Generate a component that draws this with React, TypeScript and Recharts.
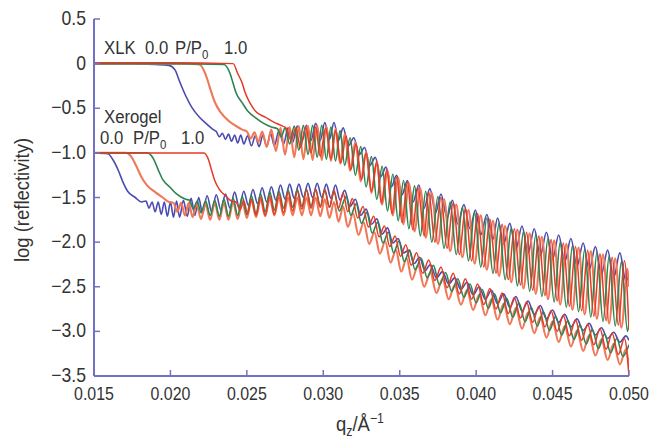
import React from 'react';
import { LineChart, Line, XAxis, YAxis, Customized } from 'recharts';

type P = [number, number];

const xTicks = [0.015, 0.02, 0.025, 0.03, 0.035, 0.04, 0.045, 0.05];
const xTickLabels = ['0.015', '0.020', '0.025', '0.030', '0.035', '0.040', '0.045', '0.050'];
const yTicks = [0.5, 0, -0.5, -1.0, -1.5, -2.0, -2.5, -3.0, -3.5];
const yTickLabels = ['0.5', '0', '\u22120.5', '\u22121.0', '\u22121.5', '\u22122.0', '\u22122.5', '\u22123.0', '\u22123.5'];

// XLK film, P/P0 = 0.0 (blue)
const xlkBlue: P[] = [
  [0.015, 0], [0.017, 0], [0.019, -0.01], [0.0199, -0.02], [0.0203, -0.07], [0.0206, -0.2], [0.021, -0.36],
  [0.0214, -0.49], [0.0219, -0.6], [0.0224, -0.68], [0.0228, -0.74],
  [0.023, -0.76], [0.0232, -0.82], [0.0234, -0.78], [0.0236, -0.85], [0.0238, -0.79], [0.024, -0.87],
  [0.0242, -0.8], [0.0244, -0.89], [0.0246, -0.8], [0.0248, -0.9], [0.02505, -0.81], [0.0253, -0.92],
  [0.02555, -0.81], [0.0258, -0.93], [0.02605, -0.8], [0.0263, -0.93], [0.02655, -0.78], [0.0268, -0.92],
  [0.0271, -0.75], [0.0274, -0.9], [0.0277, -0.72], [0.028, -0.88], [0.0283, -0.7], [0.0286, -0.87],
  [0.0289, -0.69], [0.0292, -0.86], [0.0295, -0.67], [0.0298, -0.86], [0.0301, -0.66], [0.0304, -0.85],
  [0.0307, -0.66], [0.031, -0.86], [0.0313, -0.72], [0.03165, -0.92], [0.032, -0.83], [0.03235, -1.02],
  [0.0327, -0.94], [0.03305, -1.14], [0.0334, -1.05], [0.03375, -1.27], [0.0341, -1.16], [0.03445, -1.38],
  [0.0348, -1.25], [0.03515, -1.47], [0.0355, -1.31], [0.03587, -1.55], [0.03625, -1.36], [0.0366, -1.62],
  [0.03697, -1.4], [0.03735, -1.67], [0.0377, -1.46], [0.0381, -1.73], [0.03845, -1.53], [0.0388, -1.8],
  [0.0392, -1.58], [0.0396, -1.85], [0.03995, -1.64], [0.0403, -1.92], [0.0407, -1.69], [0.0411, -1.97],
  [0.0414, -1.73], [0.0418, -2.02], [0.0422, -1.79], [0.0426, -2.08], [0.043, -1.82], [0.0434, -2.12],
  [0.0438, -1.85], [0.0442, -2.15], [0.0446, -1.89], [0.045, -2.19], [0.0454, -1.92], [0.0458, -2.22],
  [0.0462, -1.96], [0.0466, -2.27], [0.047, -2.01], [0.0474, -2.31], [0.0478, -2.05], [0.0482, -2.36],
  [0.0486, -2.09], [0.049, -2.4], [0.0494, -2.12], [0.0498, -2.44], [0.05, -2.35],
];

// XLK film, intermediate P/P0 (orange)
const xlkOrange: P[] = [
  [0.015, 0], [0.018, 0], [0.021, 0], [0.0219, -0.01], [0.0223, -0.12], [0.0226, -0.28], [0.0229, -0.43],
  [0.0233, -0.55], [0.0238, -0.64], [0.0243, -0.7], [0.0247, -0.74],
  [0.025, -0.76], [0.02525, -0.84], [0.0255, -0.77], [0.02575, -0.88], [0.026, -0.76], [0.0263, -0.93],
  [0.0266, -0.74], [0.0269, -0.98], [0.0272, -0.72], [0.0275, -1.02], [0.0278, -0.71], [0.0281, -1.05],
  [0.0284, -0.7], [0.0287, -1.07], [0.029, -0.7], [0.0293, -1.08], [0.0296, -0.69], [0.0299, -1.08],
  [0.0302, -0.7], [0.0305, -1.09], [0.0308, -0.73], [0.0311, -1.12], [0.0314, -0.79], [0.03175, -1.2],
  [0.0321, -0.88], [0.03245, -1.32], [0.0328, -0.99], [0.03315, -1.45], [0.0335, -1.1], [0.03385, -1.58],
  [0.0342, -1.2], [0.03455, -1.7], [0.0349, -1.28], [0.03525, -1.8], [0.0356, -1.34], [0.03597, -1.88],
  [0.03635, -1.4], [0.0367, -1.95], [0.0371, -1.45], [0.0375, -2.02], [0.0379, -1.52], [0.0383, -2.1],
  [0.0387, -1.58], [0.0391, -2.17], [0.0395, -1.64], [0.0399, -2.24], [0.0403, -1.7], [0.0407, -2.31],
  [0.0411, -1.76], [0.0415, -2.38], [0.0419, -1.82], [0.0423, -2.45], [0.0427, -1.86], [0.0431, -2.52],
  [0.0435, -1.9], [0.0439, -2.58], [0.0443, -1.94], [0.0447, -2.64], [0.0451, -1.98], [0.0455, -2.7],
  [0.0459, -2.02], [0.0463, -2.76], [0.0467, -2.06], [0.0471, -2.81], [0.0475, -2.1], [0.0479, -2.86],
  [0.0483, -2.14], [0.0487, -2.91], [0.0491, -2.18], [0.0495, -2.96], [0.0499, -2.3], [0.05, -2.5],
];

// XLK film, intermediate P/P0 (green)
const xlkGreen: P[] = [
  [0.015, 0], [0.02, 0], [0.0235, -0.01], [0.0239, -0.11], [0.0241, -0.22], [0.0243, -0.33], [0.0247, -0.44],
  [0.0251, -0.54], [0.0256, -0.61], [0.0261, -0.67], [0.0266, -0.71],
  [0.027, -0.73], [0.02725, -0.82], [0.0275, -0.72], [0.0278, -0.9], [0.0281, -0.7], [0.0284, -0.97],
  [0.0287, -0.69], [0.029, -1.02], [0.0293, -0.69], [0.0296, -1.05], [0.0299, -0.69], [0.0302, -1.07],
  [0.0305, -0.71], [0.0308, -1.09], [0.0311, -0.75], [0.0314, -1.14], [0.03175, -0.83], [0.0321, -1.25],
  [0.03245, -0.93], [0.0328, -1.38], [0.03315, -1.04], [0.0335, -1.52], [0.03385, -1.15], [0.0342, -1.65],
  [0.03455, -1.24], [0.0349, -1.76], [0.03525, -1.31], [0.0356, -1.85], [0.03597, -1.37], [0.03635, -1.93],
  [0.0367, -1.43], [0.0371, -2.0], [0.0375, -1.49], [0.0379, -2.07], [0.0383, -1.55], [0.0387, -2.14],
  [0.0391, -1.61], [0.0395, -2.21], [0.0399, -1.67], [0.0403, -2.28], [0.0407, -1.73], [0.0411, -2.35],
  [0.0415, -1.79], [0.0419, -2.42], [0.0423, -1.84], [0.0427, -2.49], [0.0431, -1.88], [0.0435, -2.55],
  [0.0439, -1.92], [0.0443, -2.61], [0.0447, -1.96], [0.0451, -2.67], [0.0455, -2.0], [0.0459, -2.73],
  [0.0463, -2.04], [0.0467, -2.78], [0.0471, -2.08], [0.0475, -2.84], [0.0479, -2.12], [0.0483, -2.89],
  [0.0487, -2.16], [0.0491, -2.94], [0.0495, -2.22], [0.0499, -3.0], [0.05, -2.9],
];

// XLK film, P/P0 = 1.0 (red)
const xlkRed: P[] = [
  [0.015, 0.01], [0.02, 0.01], [0.0241, 0], [0.0244, -0.11], [0.0247, -0.22], [0.0249, -0.33], [0.0252, -0.44],
  [0.0256, -0.54], [0.0262, -0.6], [0.0267, -0.65], [0.0272, -0.69],
  [0.02755, -0.72], [0.0279, -0.86], [0.0282, -0.72], [0.0285, -0.94], [0.02885, -0.71], [0.0292, -1.0],
  [0.0295, -0.71], [0.0298, -1.04], [0.03015, -0.72], [0.0305, -1.07], [0.0308, -0.75], [0.03115, -1.11],
  [0.0315, -0.81], [0.0318, -1.19], [0.03215, -0.9], [0.0325, -1.3], [0.0328, -1.0], [0.03315, -1.43],
  [0.0335, -1.1], [0.0338, -1.56], [0.03415, -1.19], [0.0345, -1.68], [0.0348, -1.27], [0.03515, -1.78],
  [0.0355, -1.33], [0.03585, -1.86], [0.0362, -1.39], [0.0366, -1.93], [0.0369, -1.44], [0.0373, -2.0],
  [0.0377, -1.5], [0.0381, -2.07], [0.0385, -1.56], [0.0389, -2.14], [0.0393, -1.62], [0.0397, -2.21],
  [0.0401, -1.68], [0.0405, -2.28], [0.0409, -1.74], [0.0413, -2.35], [0.0417, -1.8], [0.0421, -2.42],
  [0.0425, -1.85], [0.0429, -2.48], [0.0433, -1.89], [0.0437, -2.54], [0.0441, -1.93], [0.0445, -2.6],
  [0.0449, -1.97], [0.0453, -2.66], [0.0457, -2.01], [0.0461, -2.72], [0.0465, -2.05], [0.0469, -2.77],
  [0.0473, -2.09], [0.0477, -2.83], [0.0481, -2.13], [0.0485, -2.88], [0.0489, -2.17], [0.0493, -2.93],
  [0.0497, -2.21], [0.05, -2.98],
];

// Xerogel film, P/P0 = 0.0 (blue)
const xeroBlue: P[] = [
  [0.015, -1.0], [0.0159, -1.01], [0.01625, -1.08], [0.0166, -1.2], [0.0169, -1.33], [0.0172, -1.43],
  [0.0177, -1.5], [0.0181, -1.55],
  [0.0184, -1.54], [0.0186, -1.62], [0.0188, -1.55], [0.019, -1.66], [0.0192, -1.55], [0.0194, -1.69],
  [0.0196, -1.55], [0.0198, -1.71], [0.02, -1.55], [0.0202, -1.72], [0.0204, -1.54], [0.0206, -1.72],
  [0.02085, -1.53], [0.0211, -1.71], [0.02135, -1.51], [0.0216, -1.7], [0.02185, -1.5], [0.0221, -1.68],
  [0.0224, -1.48], [0.0227, -1.66], [0.023, -1.47], [0.0233, -1.64], [0.0236, -1.46], [0.0239, -1.62],
  [0.0242, -1.44], [0.0245, -1.61], [0.0248, -1.43], [0.0251, -1.59], [0.0254, -1.41], [0.0257, -1.57],
  [0.026, -1.39], [0.0263, -1.55], [0.0266, -1.38], [0.0269, -1.53], [0.0272, -1.36], [0.0275, -1.52],
  [0.0278, -1.35], [0.0281, -1.51], [0.0284, -1.35], [0.0287, -1.5], [0.029, -1.34], [0.0293, -1.5],
  [0.0296, -1.34], [0.0299, -1.5], [0.0302, -1.35], [0.0305, -1.51], [0.0308, -1.36], [0.0311, -1.53],
  [0.0314, -1.42], [0.03175, -1.6], [0.0321, -1.52], [0.03245, -1.7], [0.0328, -1.63], [0.03315, -1.8],
  [0.0335, -1.74], [0.03385, -1.91], [0.0342, -1.84], [0.03455, -2.01], [0.0349, -1.96], [0.03525, -2.12],
  [0.0356, -2.09], [0.03595, -2.24], [0.0363, -2.17], [0.03665, -2.32], [0.037, -2.25], [0.0374, -2.4],
  [0.0378, -2.33], [0.0382, -2.47], [0.0386, -2.4], [0.039, -2.53], [0.0394, -2.45], [0.0398, -2.59],
  [0.0402, -2.5], [0.0406, -2.64], [0.041, -2.54], [0.0414, -2.69], [0.0418, -2.58], [0.0422, -2.73],
  [0.0426, -2.61], [0.043, -2.77], [0.0434, -2.66], [0.0438, -2.81], [0.0442, -2.71], [0.0446, -2.86],
  [0.045, -2.76], [0.0454, -2.9], [0.0458, -2.81], [0.0462, -2.95], [0.0466, -2.86], [0.047, -2.99],
  [0.0474, -2.91], [0.0478, -3.04], [0.0482, -2.96], [0.0486, -3.08], [0.049, -3.01], [0.0494, -3.12],
  [0.0498, -3.05], [0.05, -3.1],
];

// Xerogel film, intermediate P/P0 (orange)
const xeroOrange: P[] = [
  [0.015, -1.0], [0.0171, -1.0], [0.01747, -1.05], [0.0178, -1.16], [0.0181, -1.27], [0.0185, -1.37],
  [0.019, -1.44], [0.0195, -1.5], [0.0199, -1.55],
  [0.0202, -1.56], [0.02045, -1.66], [0.0207, -1.56], [0.02095, -1.7], [0.0212, -1.56], [0.02145, -1.72],
  [0.0217, -1.57], [0.022, -1.74], [0.0223, -1.57], [0.0226, -1.75], [0.0229, -1.56], [0.0232, -1.75],
  [0.0235, -1.56], [0.0238, -1.75], [0.0241, -1.55], [0.0244, -1.74], [0.0247, -1.54], [0.025, -1.73],
  [0.0253, -1.53], [0.0256, -1.72], [0.0259, -1.52], [0.0262, -1.71], [0.0265, -1.51], [0.0268, -1.7],
  [0.0271, -1.5], [0.0274, -1.7], [0.0277, -1.5], [0.028, -1.7], [0.0283, -1.5], [0.0286, -1.7],
  [0.0289, -1.5], [0.0292, -1.7], [0.0295, -1.5], [0.0298, -1.71], [0.0301, -1.52], [0.0304, -1.73],
  [0.0307, -1.55], [0.031, -1.77], [0.0313, -1.6], [0.0316, -1.83], [0.03195, -1.68], [0.0323, -1.92],
  [0.03265, -1.78], [0.033, -2.02], [0.03335, -1.89], [0.0337, -2.13], [0.03405, -1.99], [0.0344, -2.23],
  [0.03475, -2.09], [0.0351, -2.33], [0.03545, -2.18], [0.0358, -2.42], [0.0362, -2.26], [0.0366, -2.5],
  [0.037, -2.34], [0.0374, -2.57], [0.0378, -2.41], [0.0382, -2.64], [0.0386, -2.48], [0.039, -2.7],
  [0.0394, -2.54], [0.0398, -2.76], [0.0402, -2.59], [0.0406, -2.82], [0.041, -2.64], [0.0414, -2.87],
  [0.0418, -2.69], [0.0422, -2.92], [0.0426, -2.74], [0.043, -2.97], [0.0434, -2.79], [0.0438, -3.02],
  [0.0442, -2.84], [0.0446, -3.07], [0.045, -2.89], [0.0454, -3.12], [0.0458, -2.94], [0.0462, -3.17],
  [0.0466, -2.99], [0.047, -3.22], [0.0474, -3.04], [0.0478, -3.27], [0.0482, -3.09], [0.0486, -3.32],
  [0.049, -3.14], [0.0494, -3.37], [0.0498, -3.2], [0.05, -3.4],
];

// Xerogel film, intermediate P/P0 (green)
const xeroGreen: P[] = [
  [0.015, -1.0], [0.0185, -1.0], [0.0189, -1.07], [0.0192, -1.19], [0.0195, -1.3], [0.02, -1.39],
  [0.0204, -1.46], [0.021, -1.52],
  [0.02125, -1.53], [0.0215, -1.63], [0.02175, -1.54], [0.022, -1.67], [0.0223, -1.54], [0.0226, -1.7],
  [0.0229, -1.53], [0.0232, -1.71], [0.0235, -1.52], [0.0238, -1.71], [0.0241, -1.51], [0.0244, -1.7],
  [0.0247, -1.49], [0.025, -1.69], [0.0253, -1.48], [0.0256, -1.68], [0.0259, -1.46], [0.0262, -1.66],
  [0.0265, -1.44], [0.0268, -1.64], [0.0271, -1.43], [0.0274, -1.62], [0.0277, -1.42], [0.028, -1.61],
  [0.0283, -1.41], [0.0286, -1.6], [0.0289, -1.41], [0.0292, -1.6], [0.0295, -1.41], [0.0298, -1.6],
  [0.0301, -1.42], [0.0304, -1.61], [0.0307, -1.44], [0.03105, -1.65], [0.0315, -1.49], [0.0318, -1.7],
  [0.03215, -1.57], [0.0325, -1.79], [0.03285, -1.67], [0.0332, -1.9], [0.03355, -1.78], [0.0339, -2.01],
  [0.03425, -1.89], [0.0346, -2.12], [0.03495, -1.99], [0.0353, -2.22], [0.03565, -2.09], [0.036, -2.31],
  [0.0364, -2.18], [0.0368, -2.4], [0.0372, -2.26], [0.0376, -2.48], [0.038, -2.34], [0.0384, -2.55],
  [0.0388, -2.41], [0.0392, -2.62], [0.0396, -2.47], [0.04, -2.68], [0.0404, -2.53], [0.0408, -2.74],
  [0.0412, -2.58], [0.0416, -2.79], [0.042, -2.63], [0.0424, -2.84], [0.0428, -2.68], [0.0432, -2.89],
  [0.0436, -2.73], [0.044, -2.94], [0.0444, -2.78], [0.0448, -2.99], [0.0452, -2.83], [0.0456, -3.04],
  [0.046, -2.88], [0.0464, -3.09], [0.0468, -2.93], [0.0472, -3.14], [0.0476, -2.98], [0.048, -3.19],
  [0.0484, -3.03], [0.0488, -3.24], [0.0492, -3.08], [0.0496, -3.28], [0.05, -3.15],
];

// Xerogel film, P/P0 = 1.0 (red)
const xeroRed: P[] = [
  [0.015, -1.0], [0.0222, -1.0], [0.0225, -1.08], [0.0227, -1.2], [0.0229, -1.31], [0.0232, -1.41],
  [0.0236, -1.48], [0.024, -1.54],
  [0.0243, -1.55], [0.02455, -1.64], [0.0248, -1.54], [0.02505, -1.68], [0.0253, -1.52], [0.0256, -1.7],
  [0.0259, -1.5], [0.0262, -1.7], [0.0265, -1.48], [0.0268, -1.69], [0.0271, -1.46], [0.0274, -1.67],
  [0.0277, -1.44], [0.028, -1.65], [0.0283, -1.43], [0.0286, -1.63], [0.0289, -1.42], [0.0292, -1.62],
  [0.0295, -1.41], [0.0298, -1.61], [0.0301, -1.41], [0.0304, -1.61], [0.0307, -1.42], [0.031, -1.62],
  [0.0313, -1.45], [0.0316, -1.66], [0.0319, -1.51], [0.03225, -1.73], [0.0326, -1.6], [0.03295, -1.83],
  [0.0333, -1.71], [0.03365, -1.94], [0.034, -1.82], [0.03435, -2.05], [0.0347, -1.93], [0.03505, -2.16],
  [0.0354, -2.03], [0.03575, -2.26], [0.0361, -2.12], [0.0365, -2.35], [0.0369, -2.2], [0.0373, -2.43],
  [0.0377, -2.28], [0.0381, -2.51], [0.0385, -2.35], [0.0389, -2.58], [0.0393, -2.41], [0.0397, -2.64],
  [0.0401, -2.47], [0.0405, -2.7], [0.0409, -2.52], [0.0413, -2.75], [0.0417, -2.57], [0.0421, -2.8],
  [0.0425, -2.62], [0.0429, -2.85], [0.0433, -2.67], [0.0437, -2.9], [0.0441, -2.72], [0.0445, -2.95],
  [0.0449, -2.77], [0.0453, -3.0], [0.0457, -2.82], [0.0461, -3.05], [0.0465, -2.87], [0.0469, -3.1],
  [0.0473, -2.92], [0.0477, -3.15], [0.0481, -2.97], [0.0485, -3.2], [0.0489, -3.02], [0.0493, -3.26],
  [0.0497, -3.08], [0.05, -3.5],
];

const toRows = (pts: P[]) => pts.map(([q, y]) => ({ q, y }));

const AXIS = '#7272c4';
const TEXT = '#333333';
const FONT = '"Liberation Sans", Arial, Helvetica, sans-serif';
const SX = 0.88;
const BLUE = '#4b4bb0';
const GREEN = '#2e8450';
const SALMON = '#f07858';
const RED = '#e43a26';

const series = [
  { key: 'xlk-blue', data: xlkBlue, color: BLUE, w: 1.6 },
  { key: 'xero-blue', data: xeroBlue, color: BLUE, w: 1.6 },
  { key: 'xlk-orange', data: xlkOrange, color: SALMON, w: 2.1 },
  { key: 'xero-orange', data: xeroOrange, color: SALMON, w: 2.1 },
  { key: 'xlk-green', data: xlkGreen, color: GREEN, w: 1.6 },
  { key: 'xero-green', data: xeroGreen, color: GREEN, w: 1.6 },
  { key: 'xlk-red', data: xlkRed, color: RED, w: 1.5 },
  { key: 'xero-red', data: xeroRed, color: RED, w: 1.5 },
];

const idx = (arr: number[], v: number) => arr.findIndex((a) => Math.abs(a - v) < 1e-9);

// condensed text helper (the original uses a narrow sans face)
const CText = ({ x, y, size = 19, sx = SX, anchor = 'start', children }: any) => (
  <text
    transform={`translate(${x},${y}) scale(${sx},1)`}
    textAnchor={anchor}
    fill={TEXT}
    fontSize={size}
    fontFamily={FONT}
  >
    {children}
  </text>
);

const BottomTick = (props: any) => {
  const { x, y, payload } = props;
  const i = idx(xTicks, payload.value);
  return (
    <g>
      <line x1={x} y1={y} x2={x} y2={y - 6} stroke={AXIS} strokeWidth={1.5} />
      <CText x={x} y={y + 24} size={19} sx={0.84} anchor="middle">{i >= 0 ? xTickLabels[i] : ''}</CText>
    </g>
  );
};

const TopTick = (props: any) => {
  const { x, y } = props;
  return <line x1={x} y1={y} x2={x} y2={y + 6} stroke={AXIS} strokeWidth={1.5} />;
};

const LeftTick = (props: any) => {
  const { x, y, payload } = props;
  const i = idx(yTicks, payload.value);
  return (
    <g>
      <line x1={x} y1={y} x2={x + 6} y2={y} stroke={AXIS} strokeWidth={1.5} />
      <CText x={x - 8} y={y + 6} size={20} anchor="end">{i >= 0 ? yTickLabels[i] : ''}</CText>
    </g>
  );
};

const RightTick = (props: any) => {
  const { x, y } = props;
  return <line x1={x} y1={y} x2={x - 6} y2={y} stroke={AXIS} strokeWidth={1.5} />;
};

const Annotations = () => (
  <g>
    <CText x={104} y={54}>XLK</CText>
    <CText x={145} y={54}>0.0</CText>
    <CText x={175} y={54}>
      P/P<tspan fontSize={13} dy={5}>0</tspan>
    </CText>
    <CText x={224} y={54}>1.0</CText>
    <CText x={104} y={123}>Xerogel</CText>
    <CText x={100} y={144}>0.0</CText>
    <CText x={133} y={144}>
      P/P<tspan fontSize={13} dy={5}>0</tspan>
    </CText>
    <CText x={181} y={144}>1.0</CText>
    <text
      x={0}
      y={0}
      fontSize={21}
      fontFamily={FONT}
      fill={TEXT}
      textAnchor="middle"
      transform={`translate(29,200) rotate(-90) scale(${SX},1)`}
    >
      log (reflectivity)
    </text>
    <CText x={360} y={431} size={21} anchor="middle">
      q<tspan fontSize={14} dy={5}>z</tspan>
      <tspan dy={-5}>/Å</tspan>
      <tspan fontSize={14} dy={-8}>{'\u22121'}</tspan>
    </CText>
  </g>
);

export default function App() {
  return (
    <div style={{ position: 'absolute', left: 0, top: 0, width: 649, height: 440, background: '#fff' }}>
      <LineChart width={649} height={440} margin={{ top: 19, right: 20, bottom: 0, left: 0 }}>
        <XAxis
          xAxisId={0}
          type="number"
          dataKey="q"
          domain={[0.015, 0.05]}
          ticks={xTicks}
          allowDataOverflow
          height={64}
          tickSize={0}
          tickMargin={0}
          tickLine={false}
          axisLine={{ stroke: AXIS, strokeWidth: 2 }}
          tick={<BottomTick />}
          interval={0}
        />
        <XAxis
          xAxisId="top"
          orientation="top"
          type="number"
          dataKey="q"
          domain={[0.015, 0.05]}
          ticks={xTicks}
          allowDataOverflow
          height={0}
          tickSize={0}
          tickMargin={0}
          tickLine={false}
          axisLine={{ stroke: AXIS, strokeWidth: 2 }}
          tick={<TopTick />}
          interval={0}
        />
        <YAxis
          yAxisId={0}
          type="number"
          domain={[-3.5, 0.5]}
          ticks={yTicks}
          allowDataOverflow
          width={94}
          tickSize={0}
          tickMargin={0}
          tickLine={false}
          axisLine={{ stroke: AXIS, strokeWidth: 2 }}
          tick={<LeftTick />}
          interval={0}
        />
        <YAxis
          yAxisId="right"
          orientation="right"
          type="number"
          domain={[-3.5, 0.5]}
          ticks={yTicks}
          allowDataOverflow
          width={0}
          tickSize={0}
          tickMargin={0}
          tickLine={false}
          axisLine={{ stroke: AXIS, strokeWidth: 2 }}
          tick={<RightTick />}
          interval={0}
        />
        {series.map((s) => (
          <Line
            key={s.key}
            xAxisId={0}
            yAxisId={0}
            data={toRows(s.data)}
            dataKey="y"
            type="monotone"
            stroke={s.color}
            strokeWidth={s.w}
            dot={false}
            activeDot={false}
            isAnimationActive={false}
          />
        ))}
        <Customized component={Annotations} />
      </LineChart>
    </div>
  );
}
